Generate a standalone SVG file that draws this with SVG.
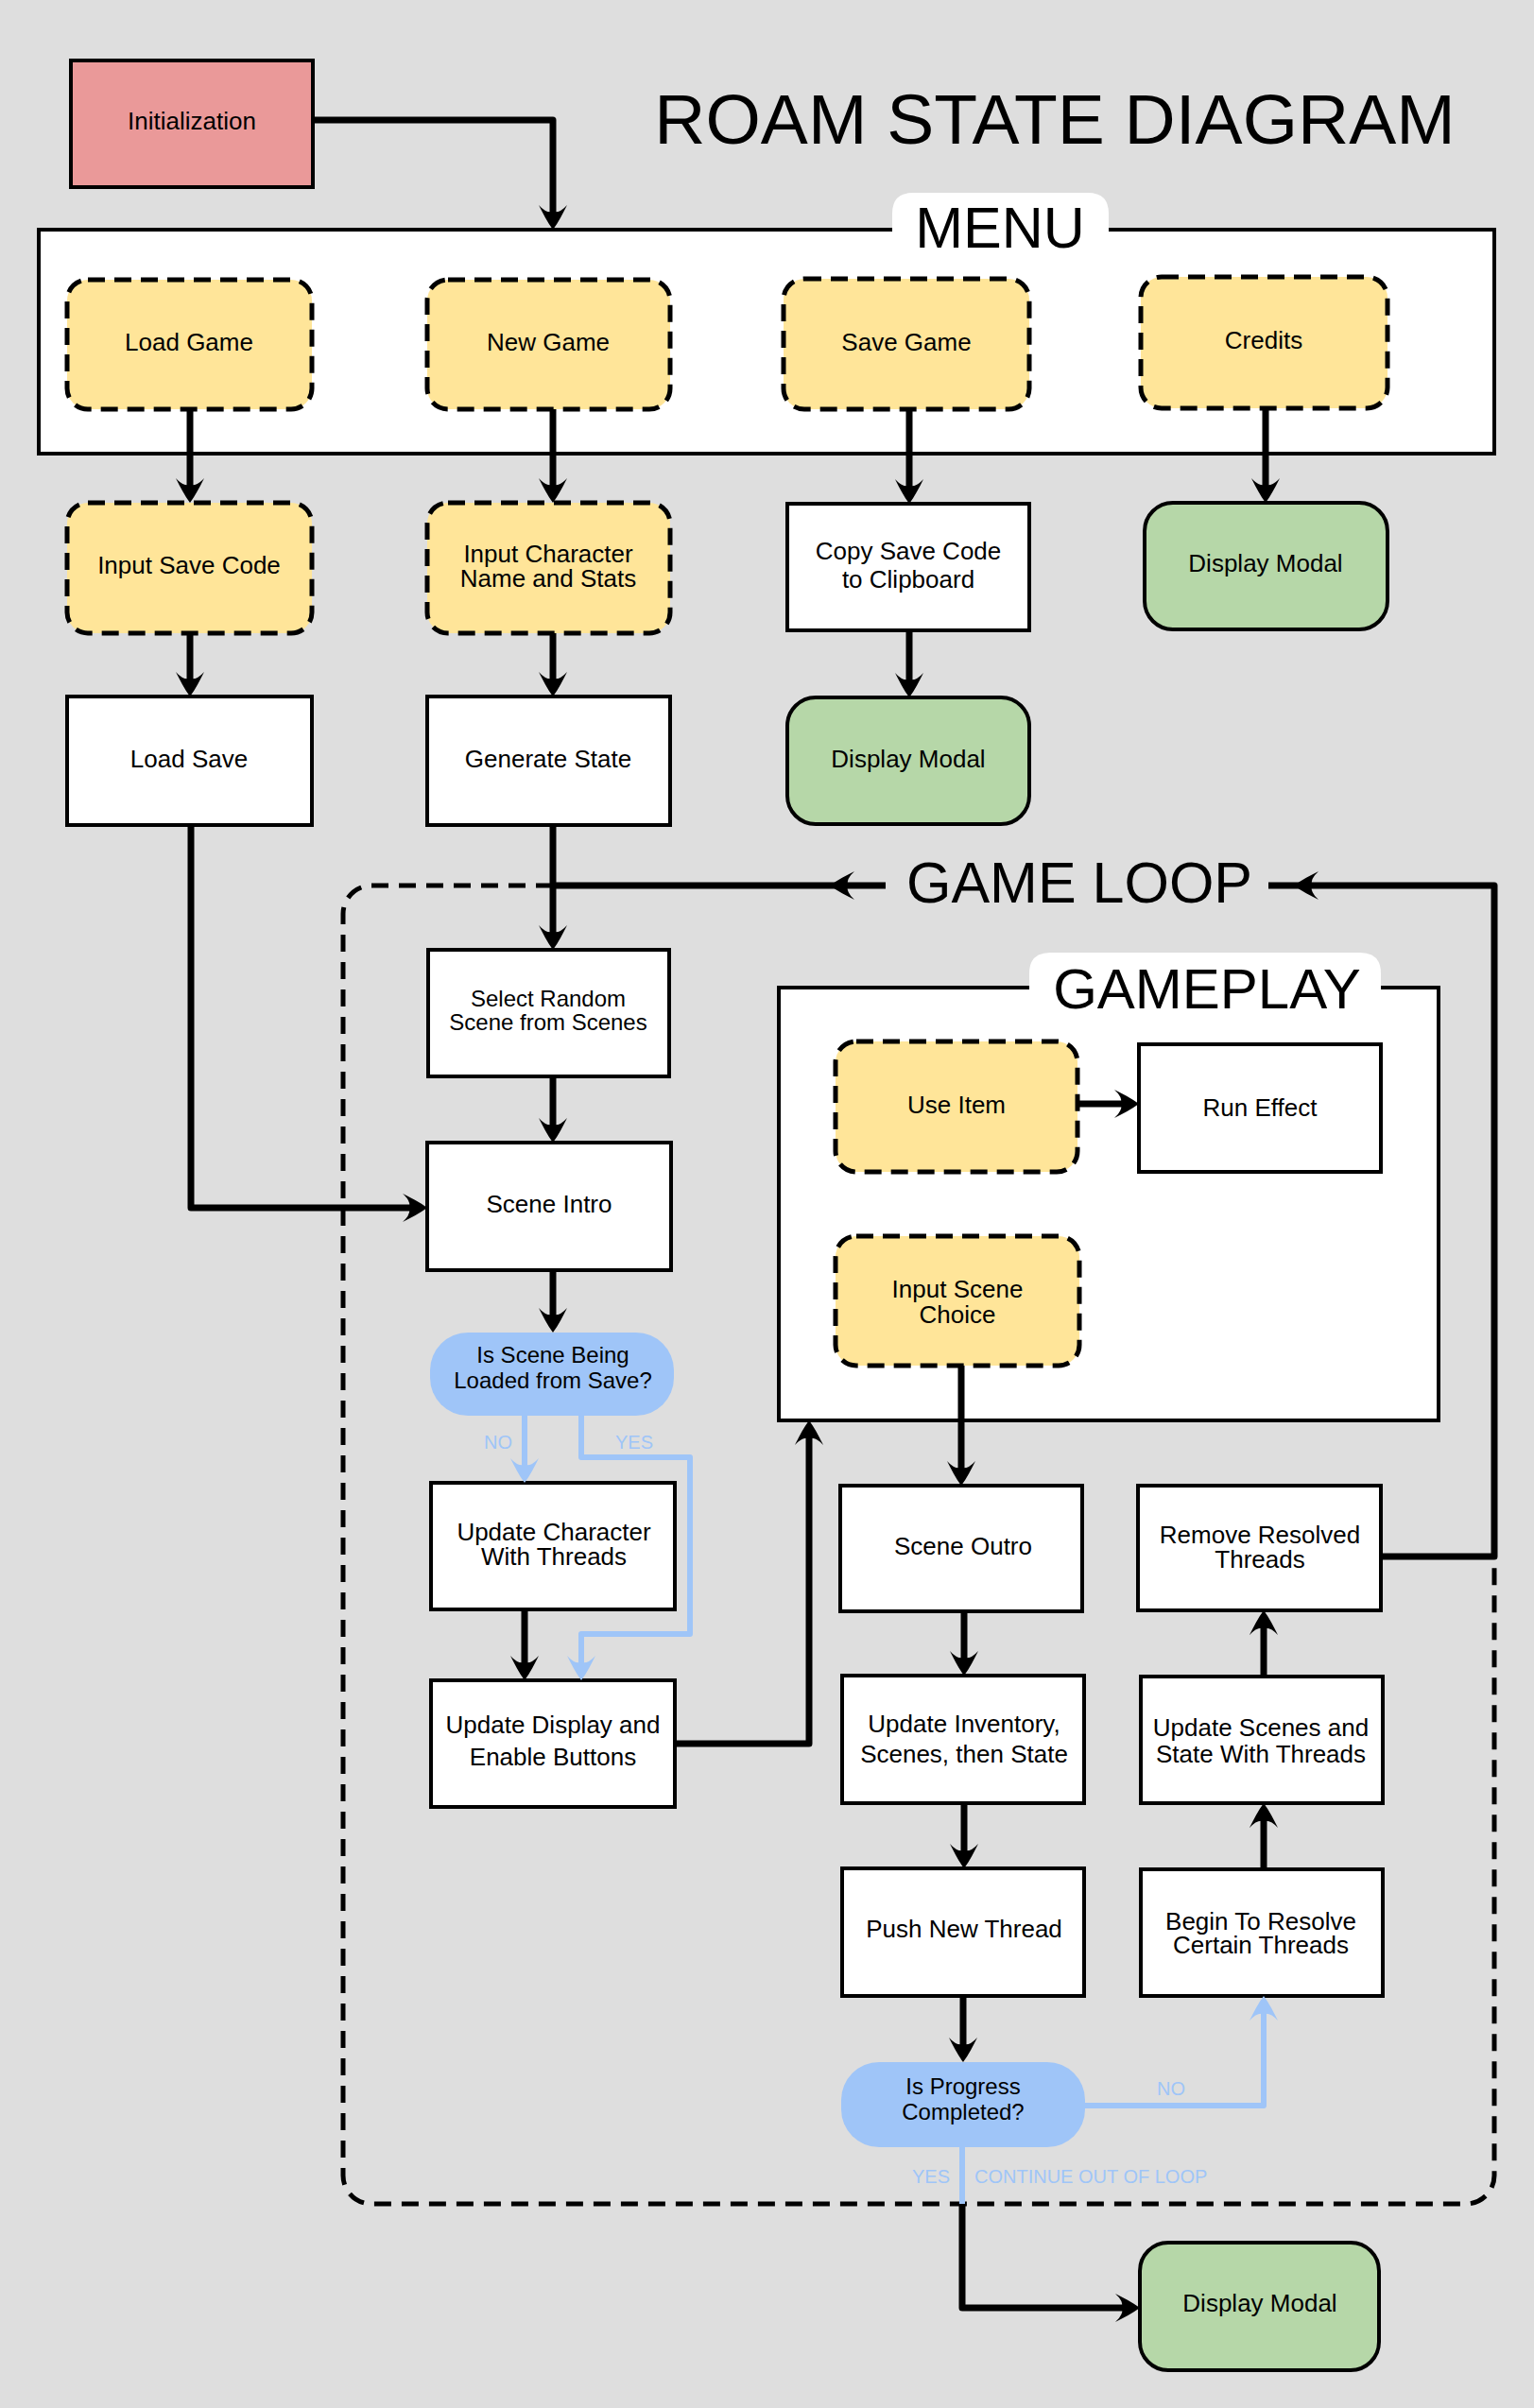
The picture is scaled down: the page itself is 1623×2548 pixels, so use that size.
<svg xmlns="http://www.w3.org/2000/svg" width="1623" height="2548" viewBox="0 0 1623 2548">
<defs>
<style>
text{font-family:"Liberation Sans",Arial,sans-serif;fill:#000;}
.t{font-size:26px;text-anchor:middle;}
.big{font-size:61px;text-anchor:middle;}
.lbl{font-size:20px;fill:#9FC5F8;}
.box{fill:#fff;stroke:#000;stroke-width:4;}
.yel{fill:#FFE599;stroke:#000;stroke-width:5;stroke-dasharray:18 10;}
.grn{fill:#B6D7A8;stroke:#000;stroke-width:4;}
.dec{fill:#9FC5F8;}
.c{fill:none;stroke:#000;stroke-width:7;stroke-linejoin:round;}
.cb{fill:none;stroke:#9FC5F8;stroke-width:6;stroke-linejoin:round;}
.ah{marker-end:url(#ah);}
.ahb{marker-end:url(#ahb);}
</style>
<marker id="ah" viewBox="0 0 30 32" markerWidth="30" markerHeight="32" refX="20" refY="16" orient="auto" markerUnits="userSpaceOnUse">
<path d="M28,16 C20,10 10,5 2,1 Q11,9 9,16 Q11,23 2,31 C10,27 20,22 28,16 Z" fill="#000"/>
</marker>
<marker id="ahb" viewBox="0 0 30 32" markerWidth="30" markerHeight="32" refX="20" refY="16" orient="auto" markerUnits="userSpaceOnUse">
<path d="M28,16 C20,10 10,5 2,1 Q11,9 9,16 Q11,23 2,31 C10,27 20,22 28,16 Z" fill="#9FC5F8"/>
</marker>
</defs>
<rect x="0" y="0" width="1623" height="2548" fill="#DEDEDE"/>

<g id="title"><text x="1116" y="152" style="font-size:75px;text-anchor:middle">ROAM STATE DIAGRAM</text></g>

<g id="menu">
<rect x="41" y="243" width="1540" height="237" class="box"/>
<path d="M944,248 V226 Q944,204 966,204 H1151 Q1173,204 1173,226 V248 Z" fill="#fff"/>
<text x="1058" y="262" class="big">MENU</text>
</g>

<g id="gameloop">
<path d="M585,937 H393 A30,30 0 0 0 363,967 V2302 A30,30 0 0 0 393,2332 H1551 A30,30 0 0 0 1581,2302 V1647" fill="none" stroke="#000" stroke-width="5" stroke-dasharray="18 11"/>
<text x="1142" y="955" class="big">GAME LOOP</text>
</g>

<g id="gameplay">
<rect x="824" y="1045" width="698" height="458" class="box"/>
<path d="M1089,1050 V1030 Q1089,1008 1111,1008 H1439 Q1461,1008 1461,1030 V1050 Z" fill="#fff"/>
<text x="1277" y="1067" class="big" style="font-size:60px">GAMEPLAY</text>
</g>

<g id="init"><rect x="75" y="64" width="256" height="134" fill="#EA9999" stroke="#000" stroke-width="4"/><text x="203" y="137" class="t">Initialization</text></g>

<g id="load-game"><rect x="71" y="296" width="259" height="137" rx="22" class="yel"/><text x="200" y="371" class="t">Load Game</text></g>
<g id="new-game"><rect x="452" y="296" width="257" height="137" rx="22" class="yel"/><text x="580" y="371" class="t">New Game</text></g>
<g id="save-game"><rect x="829" y="295" width="260" height="138" rx="22" class="yel"/><text x="959" y="371" class="t">Save Game</text></g>
<g id="credits"><rect x="1207" y="293" width="261" height="139" rx="22" class="yel"/><text x="1337" y="369" class="t">Credits</text></g>

<g id="input-save-code"><rect x="71" y="532" width="259" height="138" rx="22" class="yel"/><text x="200" y="607" class="t">Input Save Code</text></g>
<g id="input-character"><rect x="452" y="532" width="257" height="138" rx="22" class="yel"/><text class="t"><tspan x="580" y="595">Input Character</tspan><tspan x="580" y="621">Name and Stats</tspan></text></g>
<g id="copy-save-code"><rect x="833" y="533" width="256" height="134" class="box"/><text class="t"><tspan x="961" y="592">Copy Save Code</tspan><tspan x="961" y="622">to Clipboard</tspan></text></g>
<g id="display-modal-credits"><rect x="1211" y="532" width="257" height="134" rx="30" class="grn"/><text x="1339" y="605" class="t">Display Modal</text></g>

<g id="load-save"><rect x="71" y="737" width="259" height="136" class="box"/><text x="200" y="812" class="t">Load Save</text></g>
<g id="generate-state"><rect x="452" y="737" width="257" height="136" class="box"/><text x="580" y="812" class="t">Generate State</text></g>
<g id="display-modal-save"><rect x="833" y="738" width="256" height="134" rx="30" class="grn"/><text x="961" y="812" class="t">Display Modal</text></g>

<g id="select-random-scene"><rect x="453" y="1005" width="255" height="134" class="box"/><text class="t" style="font-size:24px"><tspan x="580" y="1065">Select Random</tspan><tspan x="580" y="1090">Scene from Scenes</tspan></text></g>
<g id="scene-intro"><rect x="452" y="1209" width="258" height="135" class="box"/><text x="581" y="1283" class="t">Scene Intro</text></g>
<g id="decision-loaded"><rect x="455" y="1410" width="258" height="88" rx="40" class="dec"/><text class="t" style="font-size:24px"><tspan x="585" y="1442">Is Scene Being</tspan><tspan x="585" y="1469">Loaded from Save?</tspan></text></g>
<g id="update-character"><rect x="456" y="1569" width="258" height="134" class="box"/><text class="t"><tspan x="586" y="1630">Update Character</tspan><tspan x="586" y="1656">With Threads</tspan></text></g>
<g id="update-display"><rect x="456" y="1778" width="258" height="134" class="box"/><text class="t"><tspan x="585" y="1834">Update Display and</tspan><tspan x="585" y="1868">Enable Buttons</tspan></text></g>

<g id="use-item"><rect x="884" y="1102" width="256" height="138" rx="22" class="yel"/><text x="1012" y="1178" class="t">Use Item</text></g>
<g id="run-effect"><rect x="1205" y="1105" width="256" height="135" class="box"/><text x="1333" y="1181" class="t">Run Effect</text></g>
<g id="input-scene-choice"><rect x="884" y="1308" width="258" height="137" rx="22" class="yel"/><text class="t"><tspan x="1013" y="1373">Input Scene</tspan><tspan x="1013" y="1400">Choice</tspan></text></g>

<g id="scene-outro"><rect x="889" y="1572" width="256" height="133" class="box"/><text x="1019" y="1645" class="t">Scene Outro</text></g>
<g id="remove-resolved"><rect x="1204" y="1572" width="257" height="132" class="box"/><text class="t"><tspan x="1333" y="1633">Remove Resolved</tspan><tspan x="1333" y="1659">Threads</tspan></text></g>
<g id="update-inventory"><rect x="891" y="1773" width="256" height="135" class="box"/><text class="t"><tspan x="1020" y="1833">Update Inventory,</tspan><tspan x="1020" y="1865">Scenes, then State</tspan></text></g>
<g id="update-scenes"><rect x="1207" y="1774" width="256" height="134" class="box"/><text class="t"><tspan x="1334" y="1837">Update Scenes and</tspan><tspan x="1334" y="1865">State With Threads</tspan></text></g>
<g id="push-new-thread"><rect x="891" y="1977" width="256" height="135" class="box"/><text x="1020" y="2050" class="t">Push New Thread</text></g>
<g id="begin-resolve"><rect x="1207" y="1978" width="256" height="134" class="box"/><text class="t"><tspan x="1334" y="2042">Begin To Resolve</tspan><tspan x="1334" y="2067">Certain Threads</tspan></text></g>
<g id="decision-progress"><rect x="890" y="2182" width="258" height="90" rx="40" class="dec"/><text class="t" style="font-size:24px"><tspan x="1019" y="2216">Is Progress</tspan><tspan x="1019" y="2243">Completed?</tspan></text></g>
<g id="display-modal-end"><rect x="1206" y="2373" width="253" height="135" rx="30" class="grn"/><text x="1333" y="2446" class="t">Display Modal</text></g>

<g id="connectors">
<path class="c ah" d="M331,127 H585 V235"/>
<path class="c ah" d="M201,433 V524"/>
<path class="c ah" d="M585,433 V524"/>
<path class="c ah" d="M962,433 V525"/>
<path class="c ah" d="M1339,432 V524"/>
<path class="c ah" d="M201,670 V729"/>
<path class="c ah" d="M585,670 V729"/>
<path class="c ah" d="M962,667 V730"/>
<path class="c ah" d="M202,873 V1278 H444"/>
<path class="c ah" d="M585,873 V997"/>
<path class="c ah" d="M585,1139 V1201"/>
<path class="c ah" d="M585,1344 V1402"/>
<path class="c ah" d="M555,1703 V1770"/>
<path class="c ah" d="M714,1845 H856 V1511"/>
<path class="c ah" d="M1140,1168 H1197"/>
<path class="c ah" d="M1017,1445 V1564"/>
<path class="c ah" d="M1020,1705 V1765"/>
<path class="c ah" d="M1020,1908 V1969"/>
<path class="c ah" d="M1019,2112 V2174"/>
<path class="c ah" d="M1337,1978 V1916"/>
<path class="c ah" d="M1337,1774 V1712"/>
<path class="c ah" d="M1461,1647 H1581 V937 H1377"/>
<path class="c" d="M1377,937 H1342"/>
<path class="c ah" d="M937,937 H886"/>
<path class="c" d="M886,937 H585"/>
<path class="c ah" d="M1018,2332 V2442 H1198"/>
<path class="cb ahb" d="M555,1498 V1561"/>
<path class="cb ahb" d="M615,1498 V1542 H730 V1729 H615 V1770"/>
<path class="cb ahb" d="M1148,2228 H1337 V2120"/>
<path class="cb" d="M1018,2272 V2332"/>
<text x="527" y="1533" class="lbl" style="text-anchor:middle">NO</text>
<text x="671" y="1533" class="lbl" style="text-anchor:middle">YES</text>
<text x="1239" y="2217" class="lbl" style="text-anchor:middle">NO</text>
<text x="985" y="2310" class="lbl" style="text-anchor:middle">YES</text>
<text x="1031" y="2310" class="lbl">CONTINUE OUT OF LOOP</text>
</g>
</svg>
